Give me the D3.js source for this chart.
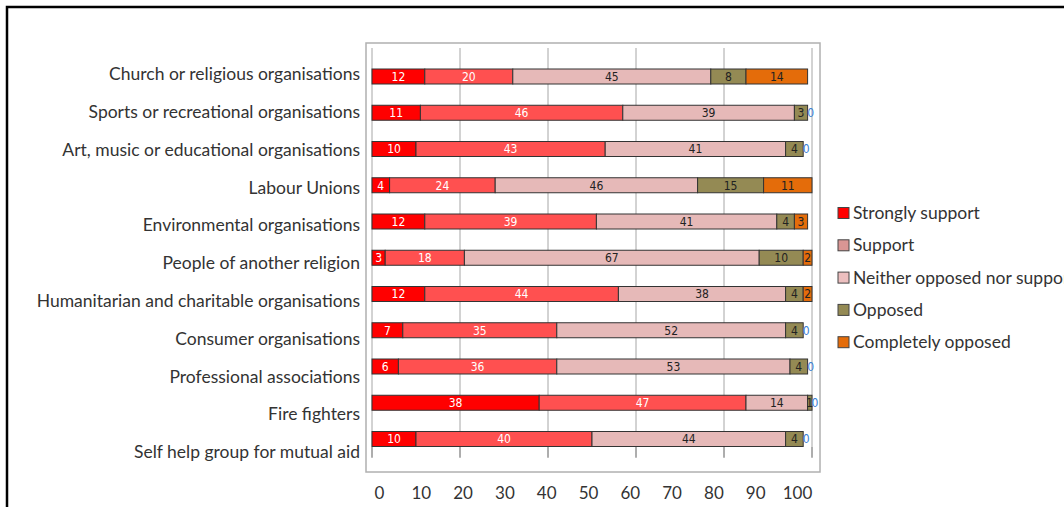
<!DOCTYPE html>
<html>
<head>
<meta charset="utf-8">
<script src="https://cdn.jsdelivr.net/npm/d3@7"></script>
<style>
  body { margin: 0; background: #fff; }
  text { font-family: Lato, "Open Sans", sans-serif; }
</style>
</head>
<body>
<div id="chart"></div>
<script>
var width = 1064;
var height = 507;

var categories = [
    "Church or religious organisations",
    "Sports or recreational organisations",
    "Art, music or educational organisations",
    "Labour Unions",
    "Environmental organisations",
    "People of another religion",
    "Humanitarian and charitable organisations",
    "Consumer organisations",
    "Professional associations",
    "Fire fighters",
    "Self help group for mutual aid"
];
var seriesNames = ["Strongly support", "Support", "Neither opposed nor support", "Opposed", "Completely opposed"];
var stronglySupport = [12, 11, 10, 4, 12, 3, 12, 7, 6, 38, 10];
var support = [20, 46, 43, 24, 39, 18, 44, 35, 36, 47, 40];
var neither = [45, 39, 41, 46, 41, 67, 38, 52, 53, 14, 44];
var opposed = [8, 3, 4, 15, 4, 10, 4, 4, 4, 1, 4];
var completelyOpposed = [14, 0, 0, 11, 3, 2, 2, 0, 0, 0, 0];
var gridTicks = [0, 20, 40, 60, 80, 100];
var axisTicks = [0, 10, 20, 30, 40, 50, 60, 70, 80, 90, 100];

var barColors = ["#ff0000", "#ff5050", "#e6b9b8", "#948a54", "#e46c0a"];
var legendColors = ["#ff0000", "#d99694", "#ecbfbf", "#948a54", "#e46c0a"];
var labelColors = ["#fff", "#fff", "#222", "#222", "#222"];

var series = [stronglySupport, support, neither, opposed, completelyOpposed];

var svg = d3.select("#chart").append("svg")
    .attr("width", width)
    .attr("height", height);

// outer frame
svg.append("rect")
    .attr("x", 7).attr("y", 7)
    .attr("width", width + 20).attr("height", height + 20)
    .attr("fill", "none").attr("stroke", "#000").attr("stroke-width", 2.5);

// plot box
svg.append("rect")
    .attr("x", 366).attr("y", 43)
    .attr("width", 454).attr("height", 429)
    .attr("fill", "#fff").attr("stroke", "#b0b0b0").attr("stroke-width", 1.5);

var x = d3.scaleLinear().domain([0, 100]).range([372, 812]);
var yBar = d3.scalePoint().domain(categories).range([76.5, 439]);
var yLabel = d3.scalePoint().domain(categories).range([74, 452]);
var xAxisLabel = d3.scaleLinear().domain([0, 100]).range([379, 797]);
var barH = 15;

// gridlines
svg.append("g").selectAll("line")
    .data(gridTicks)
    .enter().append("line")
    .attr("x1", function (d) { return x(d); })
    .attr("x2", function (d) { return x(d); })
    .attr("y1", 48)
    .attr("y2", 457)
    .attr("stroke", "#a6a6a6")
    .attr("stroke-width", 1);

// stacked data
var rows = categories.map(function (c, i) {
    var r = { name: c };
    seriesNames.forEach(function (s, j) { r[s] = series[j][i]; });
    return r;
});
var stacked = d3.stack().keys(seriesNames)(rows);

var layers = svg.append("g").selectAll("g")
    .data(stacked)
    .enter().append("g");

layers.selectAll("rect")
    .data(function (d) { return d; })
    .enter().append("rect")
    .attr("x", function (d) { return x(d[0]); })
    .attr("y", function (d) { return yBar(d.data.name) - barH / 2; })
    .attr("width", function (d) { return x(d[1]) - x(d[0]); })
    .attr("height", barH)
    .attr("fill", function (d, i, nodes) { return barColors[d3.select(nodes[i].parentNode).datum().index]; })
    .attr("stroke", "#333")
    .attr("stroke-width", 1);

layers.selectAll("text")
    .data(function (d) { return d; })
    .enter().append("text")
    .attr("x", function (d) {
        var w = x(d[1]) - x(d[0]);
        return w === 0 ? x(d[0]) + 3 : (x(d[0]) + x(d[1])) / 2;
    })
    .attr("y", function (d) { return yBar(d.data.name); })
    .attr("dy", "0.36em")
    .attr("text-anchor", "middle")
    .style("font-family", "'Liberation Sans Narrow', 'DejaVu Sans Condensed', sans-serif")
    .attr("font-size", "12px")
    .attr("fill", function (d, i, nodes) {
        var k = d3.select(nodes[i].parentNode).datum().index;
        if (d[1] - d[0] === 0) return "#3a7fd5";
        return labelColors[k];
    })
    .text(function (d) { return d[1] - d[0]; });

// bottom tick marks
svg.append("g").selectAll("line")
    .data(gridTicks)
    .enter().append("line")
    .attr("x1", function (d) { return x(d); })
    .attr("x2", function (d) { return x(d); })
    .attr("y1", 447)
    .attr("y2", 458)
    .attr("stroke", "#888");

// category labels
svg.append("g").selectAll("text")
    .data(categories)
    .enter().append("text")
    .attr("x", 360)
    .attr("y", function (d) { return yLabel(d); })
    .attr("dy", "0.35em")
    .attr("text-anchor", "end")
    .attr("font-size", "17.5px")
    .attr("fill", "#333")
    .text(function (d) { return d; });

// x axis labels under the box
var axis = d3.axisBottom(xAxisLabel).tickValues(axisTicks).tickSize(0).tickPadding(0);
var ag = svg.append("g").attr("transform", "translate(0,487)").call(axis);
ag.select(".domain").remove();
ag.selectAll("text")
    .style("font-family", "Lato, 'Open Sans', sans-serif")
    .attr("font-size", "17px")
    .attr("fill", "#333");

// legend
var legend = svg.append("g").selectAll("g")
    .data(seriesNames)
    .enter().append("g")
    .attr("transform", function (d, i) { return "translate(838," + (213 + i * 32.3) + ")"; });
legend.append("rect")
    .attr("x", 0).attr("y", -5.5)
    .attr("width", 11).attr("height", 11)
    .attr("fill", function (d, i) { return legendColors[i]; })
    .attr("stroke", "#444").attr("stroke-width", 1);
legend.append("text")
    .attr("x", 15).attr("y", 0).attr("dy", "0.35em")
    .attr("font-size", "17.5px")
    .attr("fill", "#333")
    .text(function (d) { return d; });
</script>
</body>
</html>
